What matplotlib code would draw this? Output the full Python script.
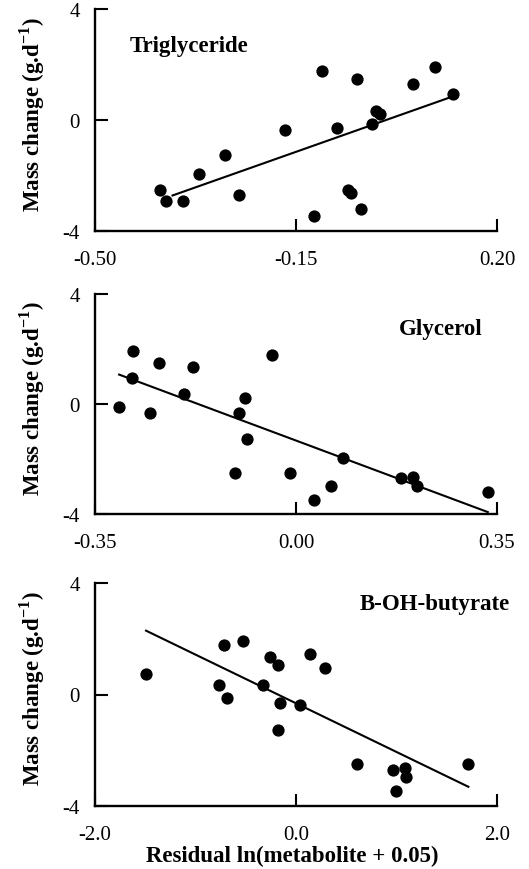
import matplotlib
matplotlib.use("Agg")
import matplotlib.pyplot as plt

plt.rcParams['font.family'] = ['Liberation Serif', 'DejaVu Serif']
plt.rcParams['mathtext.fontset'] = 'custom'
plt.rcParams['mathtext.rm'] = 'Liberation Serif'
plt.rcParams['mathtext.bf'] = 'Liberation Serif:bold'

# Panel 1: Triglyceride
tg_x = [-0.386, -0.376, -0.346, -0.319, -0.273, -0.250, -0.170, -0.119, -0.104, -0.078,
        -0.060, -0.054, -0.044, -0.037, -0.017, -0.010, -0.004, 0.053, 0.092, 0.123]
tg_y = [-2.51, -2.93, -2.93, -1.96, -1.25, -2.69, -0.35, -3.46, 1.77, -0.29,
        -2.51, -2.63, 1.47, -3.20, -0.13, 0.33, 0.22, 1.31, 1.92, 0.92]
tg_fit_x = [-0.365, 0.119]
tg_fit_y = [-2.72, 0.82]

# Panel 2: Glycerol
gl_x = [-0.308, -0.285, -0.283, -0.255, -0.239, -0.195, -0.180, -0.107, -0.100, -0.088,
        -0.086, -0.042, -0.011, 0.032, 0.061, 0.082, 0.182, 0.204, 0.210, 0.334]
gl_y = [-0.12, 0.93, 1.94, -0.32, 1.50, 0.35, 1.36, -2.52, -0.34, 0.23,
        -1.27, 1.79, -2.52, -3.48, -2.97, -1.98, -2.70, -2.64, -2.97, -3.21]
gl_fit_x = [-0.308, 0.334]
gl_fit_y = [1.07, -3.93]

# Panel 3: B-OH-butyrate
bo_x = [-1.492, -0.768, -0.712, -0.682, -0.529, -0.324, -0.257, -0.184, -0.184, -0.158,
        0.035, 0.144, 0.287, 0.609, 0.964, 0.994, 1.081, 1.097, 1.715]
bo_y = [0.73, 0.34, 1.77, -0.13, 1.93, 0.34, 1.33, 1.07, -1.27, -0.31,
        -0.37, 1.47, 0.94, -2.51, -2.70, -3.45, -2.64, -2.95, -2.51]
bo_fit_x = [-1.492, 1.715]
bo_fit_y = [2.29, -3.31]

titles = ['Triglyceride', 'Glycerol', 'B-OH-butyrate']
x_ticks = [[-0.50, -0.15, 0.20], [-0.35, 0.00, 0.35], [-2.0, 0.0, 2.0]]
x_ticklabels = [['-0.50', '-0.15', '0.20'], ['-0.35', '0.00', '0.35'], ['-2.0', '0.0', '2.0']]
y_ticks = [-4, 0, 4]
y_ticklabels = ['-4', '0', '4']

W, H = 529, 870
fig = plt.figure(figsize=(W / 100, H / 100), dpi=100)

# (top, bottom) pixel positions of each axes
panels_px = [(10, 232), (295, 515), (584, 807)]
left_px, right_px = 95, 497

data = [(tg_x, tg_y, tg_fit_x, tg_fit_y), (gl_x, gl_y, gl_fit_x, gl_fit_y),
        (bo_x, bo_y, bo_fit_x, bo_fit_y)]
title_pos = [(0.087, 0.834, 'left'), (0.963, 0.842, 'right'), (1.032, 0.907, 'right')]

for i, (top, bot) in enumerate(panels_px):
    ax = fig.add_axes([left_px / W, 1 - bot / H, (right_px - left_px) / W, (bot - top) / H])
    xs, ys, fx, fy = data[i]
    ax.plot(fx, fy, color='black', lw=1.5, zorder=2)
    ax.scatter(xs, ys, s=78, color='black', zorder=3, linewidths=0, clip_on=False)
    ax.set_xlim(x_ticks[i][0], x_ticks[i][-1])
    ax.set_ylim(-4, 4)
    ax.set_xticks(x_ticks[i])
    ax.set_xticklabels(x_ticklabels[i])
    ax.set_yticks(y_ticks)
    ax.set_yticklabels(y_ticklabels)
    for s in ['top', 'right']:
        ax.spines[s].set_visible(False)
    for s in ['left', 'bottom']:
        ax.spines[s].set_linewidth(1.7)
    ax.tick_params(direction='in', length=9, width=1.5, labelsize=15)
    ax.tick_params(axis='x', pad=14)
    ax.tick_params(axis='y', pad=11)
    ax.set_ylabel(r'Mass change (g.d$^{\mathbf{-1}}$)', fontsize=16.5, fontweight='bold')
    ax.yaxis.set_label_coords(-0.12, 0.53)
    tx, ty, ha = title_pos[i]
    ax.text(tx, ty, titles[i], transform=ax.transAxes, ha=ha, va='center',
            fontsize=16.5, fontweight='bold')
    ax.patch.set_visible(False)
    if i == 2:
        ax.set_xlabel('Residual ln(metabolite + 0.05)', fontsize=16.5, fontweight='bold')
        ax.xaxis.set_label_coords(0.49, -0.175)

fig.savefig('out.png', dpi=100)
